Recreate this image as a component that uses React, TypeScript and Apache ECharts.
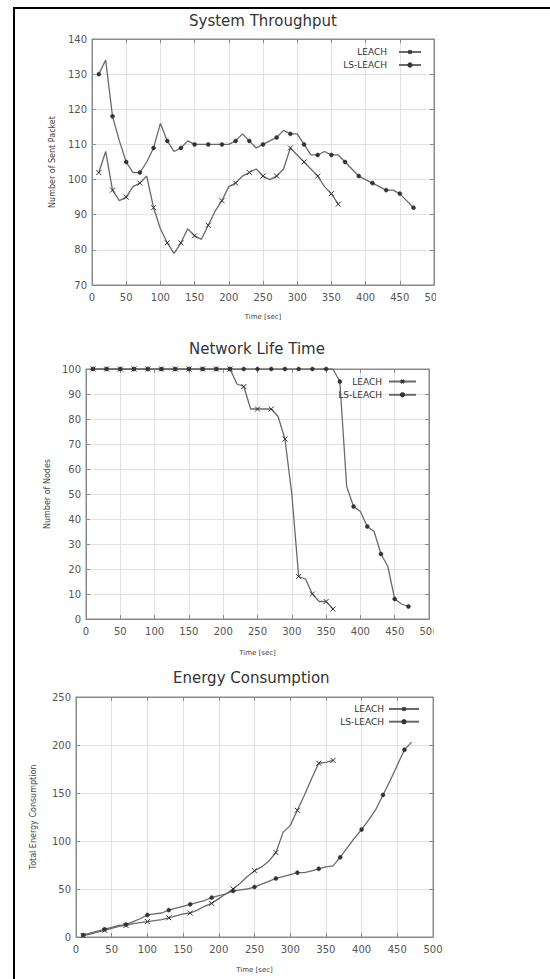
import React, { useEffect, useRef } from "react";
import * as echarts from "echarts";

// ---------- data ----------
const titles = ["System Throughput", "Network Life Time", "Energy Consumption"];
const seriesNames = ["LEACH", "LS-LEACH"];
const xAxisName = "Time [sec]";
const yAxisNames = ["Number of Sent Packet", "Number of Nodes", "Total Energy Consumption"];

const timeLeach = [10, 20, 30, 40, 50, 60, 70, 80, 90, 100, 110, 120, 130, 140, 150, 160, 170, 180, 190, 200, 210, 220, 230, 240, 250, 260, 270, 280, 290, 300, 310, 320, 330, 340, 350, 360];
const timeLsLeach = [10, 20, 30, 40, 50, 60, 70, 80, 90, 100, 110, 120, 130, 140, 150, 160, 170, 180, 190, 200, 210, 220, 230, 240, 250, 260, 270, 280, 290, 300, 310, 320, 330, 340, 350, 360, 370, 380, 390, 400, 410, 420, 430, 440, 450, 460, 470];

const throughputLeach = [102, 108, 97, 94, 95, 98, 99, 101, 92, 86, 82, 79, 82, 86, 84, 83, 87, 91, 94, 98, 99, 101, 102, 103, 101, 100, 101, 103, 109, 107, 105, 103, 101, 98, 96, 93];
const throughputLsLeach = [130, 134, 118, 111, 105, 102, 102, 105, 109, 116, 111, 108, 109, 111, 110, 110, 110, 110, 110, 110, 111, 113, 111, 109, 110, 111, 112, 114, 113, 113, 110, 107, 107, 108, 107, 107, 105, 103, 101, 100, 99, 98, 97, 97, 96, 94, 92];

const lifeLeach = [100, 100, 100, 100, 100, 100, 100, 100, 100, 100, 100, 100, 100, 100, 100, 100, 100, 100, 100, 100, 100, 94, 93, 84, 84, 84, 84, 81, 72, 50, 17, 16, 10, 7, 7, 4];
const lifeLsLeach = [100, 100, 100, 100, 100, 100, 100, 100, 100, 100, 100, 100, 100, 100, 100, 100, 100, 100, 100, 100, 100, 100, 100, 100, 100, 100, 100, 100, 100, 100, 100, 100, 100, 100, 100, 100, 95, 53, 45, 43, 37, 35, 26, 21, 8, 6, 5];

const energyLeach = [1.5, 3, 5, 7, 9, 11, 12, 14, 15, 16, 17, 18, 20, 22, 24, 25, 28, 32, 35, 40, 45, 50, 56, 63, 69, 73, 79, 88, 109, 116, 132, 148, 165, 181, 182, 184];
const energyLsLeach = [2, 4, 6, 8, 10, 12, 13, 16, 19, 23, 24, 25, 28, 30, 32, 34, 36, 38, 41, 43, 45, 48, 49, 50, 52, 55, 58, 61, 63, 65, 67, 67, 69, 71, 73, 74, 83, 93, 103, 112, 122, 133, 148, 163, 179, 195, 203];

const xTicks = { min: 0, max: 500, interval: 50 };
const yTicks = [
  { min: 70, max: 140, interval: 10 },
  { min: 0, max: 100, interval: 10 },
  { min: 0, max: 250, interval: 50 },
];

// ---------- styles ----------
const FONT = "DejaVu Sans";
const LINE = "#6a6a6a";
const MARK = "#333";
const BORDER = "#8a8a8a";
const CROSS = "path://M0,0L10,10M10,0L0,10";

const grids = [
  { left: 92, top: 39, width: 342, height: 246 },
  { left: 86, top: 369, width: 343, height: 250 },
  { left: 76, top: 697, width: 357, height: 240 },
];
const titleBoxes = [
  { left: 189, top: 13 },
  { left: 189, top: 341 },
  { left: 173, top: 670 },
];
const legendBoxes = [
  { right: 128, top: 46.5, itemWidth: 22, pad: 7, gap: 2 },
  { right: 133, top: 376, itemWidth: 27, pad: 2, gap: 2.3 },
  { right: 130, top: 703.5, itemWidth: 30, pad: 0, gap: 1.7 },
];
const yNameGaps = [36, 35, 39];
const xNameGaps = [28.5, 30.5, 29.5];
const markerEvery = [2, 2, 3];

function buildData(times: number[], vals: number[], every: number, markLast: boolean) {
  return times.map((t, i) => {
    const show = i % every === 0 || (markLast && i === times.length - 1);
    return show ? { value: [t, vals[i]] } : { value: [t, vals[i]], symbol: "none" };
  });
}

const tick = { show: true, inside: true, length: 4, lineStyle: { color: BORDER } };
const axisLine = { show: true, onZero: false, lineStyle: { color: BORDER, width: 1 } };

export default function App() {
  const ref = useRef<HTMLDivElement>(null);
  useEffect(() => {
    if (!ref.current) return;
    const chart = echarts.init(ref.current, undefined, { renderer: "svg" });
    const datasets = [
      [throughputLeach, throughputLsLeach],
      [lifeLeach, lifeLsLeach],
      [energyLeach, energyLsLeach],
    ];
    const xAxis: any[] = [];
    const yAxis: any[] = [];
    const series: any[] = [];
    grids.forEach((_, g) => {
      xAxis.push({
        type: "value",
        gridIndex: g,
        position: "bottom",
        ...xTicks,
        name: xAxisName,
        nameLocation: "middle",
        nameGap: xNameGaps[g],
        nameTextStyle: { fontFamily: FONT, fontSize: 7, color: "#444" },
        axisLine,
        axisTick: tick,
        axisLabel: { fontFamily: FONT, fontSize: 10, color: "#555", margin: 7 },
        splitLine: { show: true, lineStyle: { color: "#e2e2e2", width: 1 } },
      });
      yAxis.push({
        type: "value",
        gridIndex: g,
        position: "left",
        ...yTicks[g],
        name: yAxisNames[g],
        nameLocation: "middle",
        nameGap: yNameGaps[g],
        nameTextStyle: { fontFamily: FONT, fontSize: 8, color: "#444" },
        axisLine,
        axisTick: tick,
        axisLabel: { fontFamily: FONT, fontSize: 10, color: "#555", margin: 5 },
        splitLine: { show: true, lineStyle: { color: "#e2e2e2", width: 1 } },
      });
    });
    // mirror axes (ticks on top / right borders)
    grids.forEach((_, g) => {
      xAxis.push({
        type: "value", gridIndex: g, position: "top", ...xTicks,
        axisLine, axisLabel: { show: false }, splitLine: { show: false }, axisTick: tick,
      });
      yAxis.push({
        type: "value", gridIndex: g, position: "right", ...yTicks[g],
        axisLine, axisLabel: { show: false }, splitLine: { show: false }, axisTick: tick,
      });
    });
    grids.forEach((_, g) => {
      const [leach, ls] = datasets[g];
      series.push({
        name: seriesNames[0],
        type: "line",
        xAxisIndex: g,
        yAxisIndex: g,
        data: buildData(timeLeach, leach, markerEvery[g], true),
        symbol: CROSS,
        symbolSize: 5,
        showAllSymbol: true,
        lineStyle: { color: LINE, width: 1.3 },
        itemStyle: { color: MARK, borderColor: MARK, borderWidth: 1 },
        z: 3,
      });
      series.push({
        name: seriesNames[1],
        type: "line",
        xAxisIndex: g,
        yAxisIndex: g,
        data: buildData(timeLsLeach, ls, markerEvery[g], false),
        symbol: "circle",
        symbolSize: 4,
        showAllSymbol: true,
        lineStyle: { color: LINE, width: 1.3 },
        itemStyle: { color: MARK, borderColor: MARK, borderWidth: 0.5 },
        z: 3,
      });
    });
    chart.setOption({
      animation: false,
      backgroundColor: "#fff",
      title: titles.map((t, i) => ({
        text: t,
        left: titleBoxes[i].left,
        top: titleBoxes[i].top,
        padding: 0,
        textStyle: { fontFamily: FONT, fontSize: 15, fontWeight: "normal", color: "#333" },
      })),
      legend: legendBoxes.map((l) => ({
        orient: "vertical",
        right: l.right,
        top: l.top,
        align: "right",
        padding: 0,
        itemWidth: l.itemWidth,
        itemHeight: 4,
        itemGap: l.gap,
        selectedMode: false,
        data: seriesNames,
        textStyle: { fontFamily: FONT, fontSize: 9, color: "#333", lineHeight: 11, padding: [0, l.pad, 0, 0] },
      })),
      grid: grids.map((g) => ({ ...g, show: true, borderColor: BORDER, borderWidth: 1, backgroundColor: "transparent" })),
      xAxis,
      yAxis,
      series,
      graphic: [
        { type: "rect", z: 100, shape: { x: 436, y: 289, width: 30, height: 18 }, style: { fill: "#fff" } },
        { type: "rect", z: 100, shape: { x: 433.5, y: 624, width: 30, height: 18 }, style: { fill: "#fff" } },
      ],
    });
    return () => chart.dispose();
  }, []);
  return (
    <div style={{ position: "absolute", left: 0, top: 0, width: 550, height: 979, background: "#fff" }}>
      <div ref={ref} style={{ position: "absolute", left: 0, top: 0, width: 550, height: 979 }} />
      <div
        style={{
          position: "absolute",
          left: 13,
          top: 7,
          width: 537,
          height: 972,
          borderLeft: "2px solid #000",
          borderTop: "2px solid #000",
          boxSizing: "border-box",
          pointerEvents: "none",
        }}
      />
    </div>
  );
}
